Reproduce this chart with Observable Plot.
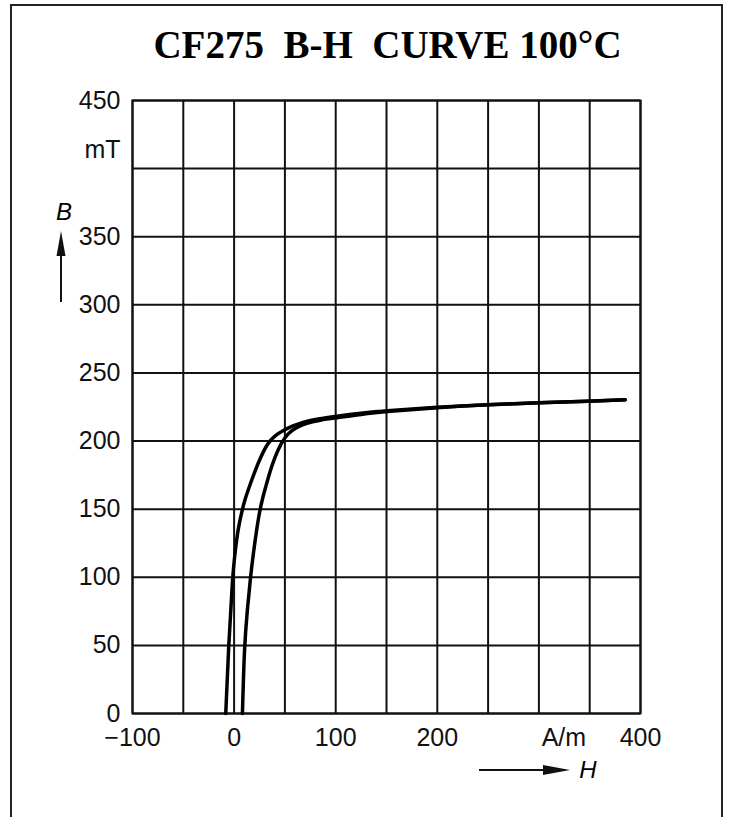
<!DOCTYPE html>
<html>
<head>
<meta charset="utf-8">
<script src="https://cdn.jsdelivr.net/npm/d3@7"></script>
<script src="https://cdn.jsdelivr.net/npm/@observablehq/plot@0.6"></script>
<style>
  html, body { margin: 0; padding: 0; background: #fff; overflow: hidden; }
  #wrap { position: relative; width: 729px; height: 817px; overflow: hidden; }
  #border { position: absolute; left: 10px; top: 4px; width: 709px; height: 900px;
            border: 2px solid #222; border-bottom: none; }
  #title { position: absolute; left: 23px; width: 729px; top: 25px; text-align: center;
           font-family: "Liberation Serif", "Times New Roman", serif; font-weight: bold;
           font-size: 39px; white-space: pre; color: #000; line-height: 1; }
  #chart { position: absolute; left: 0; top: 0; }
  #ann { position: absolute; left: 0; top: 0; pointer-events: none; }
</style>
</head>
<body>
<div id="wrap">
  <div id="border"></div>
  <div id="chart"></div>
  <div id="title">CF275  B-H  CURVE 100°C</div>
  <svg id="ann" width="729" height="817">
    <text x="64" y="220" font-family="Liberation Sans, Arial, sans-serif" font-style="italic" font-size="24" text-anchor="middle">B</text>
    <line x1="61" y1="302" x2="61" y2="250" stroke="#111" stroke-width="2"/>
    <polygon points="61,231 56.5,256 65.5,256" fill="#111"/>
    <line x1="479" y1="770" x2="548" y2="770" stroke="#111" stroke-width="2"/>
    <polygon points="570,770 543,765 543,775" fill="#111"/>
    <text x="588" y="778" font-family="Liberation Sans, Arial, sans-serif" font-style="italic" font-size="24" text-anchor="middle">H</text>
  </svg>
</div>
<script>
// Upper (descending) branch of the B-H loop, H in A/m, B in mT
const upperH = [385, 350, 300, 250, 200, 150, 125, 100, 82, 68, 57, 48, 40, 33, 26, 20, 15, 11, 7.5, 4, 1, -1.6, -5.4, -8.2];
const upperB = [230.3, 229.3, 228.1, 226.8, 224.9, 222.2, 220.5, 218.2, 216.3, 214, 211, 207.5, 204, 198.5, 188, 177, 166.5, 158, 148, 136, 119, 100, 50, 0];
// Lower (ascending) branch of the B-H loop
const lowerH = [8.2, 10.1, 13, 16.1, 19, 22, 25, 28, 31, 35, 40, 46.6, 53, 60, 70, 85, 100, 125, 150, 200, 250, 300, 350, 385];
const lowerB = [0, 50, 76, 100, 118, 134, 148, 158, 166, 177, 188, 199, 205.5, 209.5, 213, 215.5, 217, 219.6, 221.6, 224.7, 226.8, 228.1, 229.3, 230.3];

const xTicks = [-100, 0, 100, 200, 400];
const yTicks = [0, 50, 100, 150, 200, 250, 300, 350, 450];
const gridStep = 50;
const unitLabels = [{axis: "y", value: 400, text: "mT"}, {axis: "x", value: 300, text: "A/m"}];

const upper = upperH.map((h, i) => ({H: h, B: upperB[i]}));
const lower = lowerH.map((h, i) => ({H: h, B: lowerB[i]}));

const chart = Plot.plot({
  width: 729,
  height: 817,
  marginLeft: 132,
  marginRight: 89,
  marginTop: 100,
  marginBottom: 104,
  style: {fontFamily: "Liberation Sans, Arial, sans-serif", fontSize: "25px", color: "#111", background: "transparent"},
  x: {domain: [-100, 400], ticks: xTicks, tickSize: 0, tickPadding: 15, label: null},
  y: {domain: [0, 450], ticks: yTicks, tickSize: 0, tickPadding: 12, label: null},
  marks: [
    Plot.gridX(d3.range(-100, 401, gridStep), {stroke: "#111", strokeOpacity: 1, strokeWidth: 2}),
    Plot.gridY(d3.range(0, 451, gridStep), {stroke: "#111", strokeOpacity: 1, strokeWidth: 2}),
    Plot.frame({stroke: "#111", strokeWidth: 2}),
    Plot.line(upper, {x: "H", y: "B", curve: "basis", stroke: "#000", strokeWidth: 3.5}),
    Plot.line(lower, {x: "H", y: "B", curve: "basis", stroke: "#000", strokeWidth: 3.5}),
    Plot.text(unitLabels.filter(d => d.axis === "y"), {y: "value", text: "text", frameAnchor: "left", textAnchor: "end", dx: -12, dy: -19, fontSize: 25, fill: "#111"}),
    Plot.text(unitLabels.filter(d => d.axis === "x"), {x: "value", text: "text", frameAnchor: "bottom", lineAnchor: "top", dx: 25, dy: 15, fontSize: 25, fill: "#111"})
  ]
});
document.getElementById("chart").appendChild(chart);
</script>
</body>
</html>
